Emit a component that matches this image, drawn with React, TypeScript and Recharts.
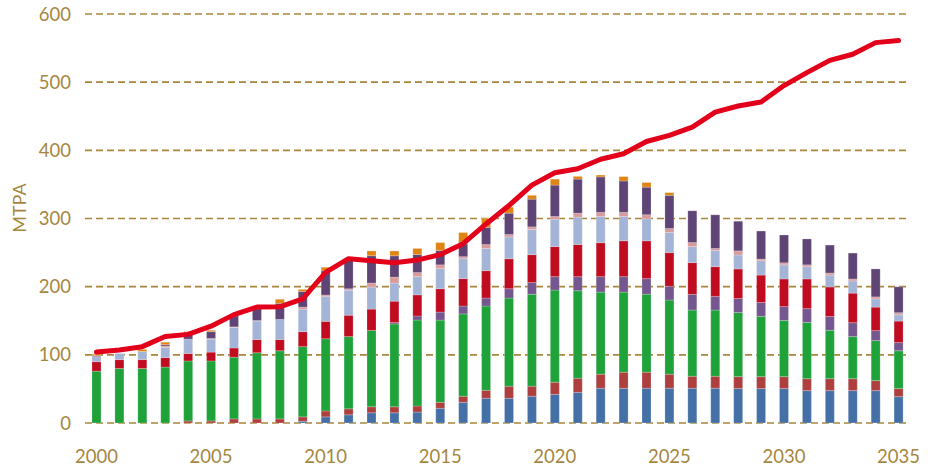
import React from 'react';
import { ComposedChart, Bar, Line, XAxis, YAxis, CartesianGrid, Label } from 'recharts';

const years = [
  2000, 2001, 2002, 2003, 2004, 2005, 2006, 2007, 2008, 2009,
  2010, 2011, 2012, 2013, 2014, 2015, 2016, 2017, 2018, 2019,
  2020, 2021, 2022, 2023, 2024, 2025, 2026, 2027, 2028, 2029,
  2030, 2031, 2032, 2033, 2034, 2035,
];

const seriesBlue = [
  0, 0, 0, 0, 0, 0, 0, 0, 0, 2.5,
  9, 12, 15, 15, 16, 21.6, 30.4, 36.3, 36.3, 39.2,
  42, 45, 51, 51, 51, 51, 51, 51, 50.5, 50.5,
  50.5, 47.5, 47.5, 47.5, 47.5, 38.7,
];
const seriesBrown = [
  0, 0, 0, 0, 3, 3, 6, 6, 6, 6.5,
  8.6, 8.8, 8.8, 8.8, 9, 8.8, 8.8, 11.7, 17.7, 14.8,
  17.8, 20.7, 20.6, 23.5, 23.5, 20.6, 17.6, 17.6, 17.5, 17.5,
  17.5, 17.5, 17.5, 17.5, 14.7, 11.8,
];
const seriesGreen = [
  76, 80, 80, 82, 88, 88, 90.6, 97, 100, 103,
  106, 106, 112, 121.5, 126, 120.6, 120.8, 123.6, 129.3, 135,
  135.2, 128.3, 120.4, 117.5, 114.5, 108.8, 97.1, 97.1, 94, 88.5,
  82.5, 82.5, 71, 61.8, 58.6, 55.5,
];
const seriesPurple = [
  0, 0, 0, 0, 0, 0, 0, 0, 0, 0,
  0, 0, 0, 2, 6, 11.7, 11.6, 11.7, 13.7, 17,
  19.7, 20.7, 22.7, 22.7, 22.8, 20.1, 23, 20.1, 20.6, 20.3,
  20.3, 20.3, 20.2, 20.4, 14.7, 12,
];
const seriesRed = [
  14, 13, 13, 14, 11, 13, 13.4, 19.5, 16.5, 22,
  25.5, 31.3, 31.3, 31.4, 31, 34.3, 40.2, 40.2, 44, 41,
  44.1, 47.1, 49.8, 52.6, 55.5, 49.5, 46.6, 43.6, 43.4, 40.2,
  40.5, 43.5, 43.3, 43.3, 34.5, 31.5,
];
const seriesLightBlue = [
  7, 9, 12, 15, 21, 19, 30, 27, 29.5, 33,
  36.3, 36.8, 32.3, 26.6, 26.7, 29.5, 29.2, 32.5, 32, 37,
  40.2, 40.2, 38.5, 35.7, 32.2, 29.4, 23.5, 23.6, 20.5, 21,
  20.7, 17.9, 17.5, 18, 12, 9.3,
];
const seriesPink = [
  0.5, 0, 0, 2, 0, 1, 1, 1, 0, 3,
  2.4, 2, 6, 8.7, 6, 5.5, 3, 5.8, 3.5, 3.7,
  4, 5.8, 6, 6, 6, 5.9, 5.9, 3, 6, 2.5,
  3, 2.8, 3, 2.8, 3, 3,
];
const seriesDarkPurple = [
  1.5, 0, 0, 2, 9, 10, 16, 17, 23.5, 23,
  35.3, 44.4, 40, 31.3, 26.4, 21, 18.7, 25.2, 31.3, 40.7,
  46, 50, 52, 46, 40.5, 48.7, 46.6, 49.4, 43.5, 41.1,
  40.8, 38, 41, 38, 41, 38,
];
const seriesOrange = [
  2, 0, 3, 3.5, 2, 2, 0, 0, 6, 3,
  5.4, 0.5, 7, 7, 9, 11.7, 16.7, 13, 8.9, 5.6,
  8.8, 4, 2.7, 6.5, 6.8, 4, 0, 0, 0, 0,
  0, 0, 0, 0, 0, 0,
];
const totalLine = [
  104, 107, 112, 127, 130, 142, 159, 170, 170.5, 182,
  221, 241, 238, 235, 239, 247, 263, 292, 319, 349,
  367, 373, 387, 395, 413, 422, 434, 456, 465, 471,
  495, 514, 532, 541, 558, 561,
];

const yTicks = [0, 100, 200, 300, 400, 500, 600];

const data = years.map((y, i) => ({
  year: y,
  blue: seriesBlue[i],
  brown: seriesBrown[i],
  green: seriesGreen[i],
  purple: seriesPurple[i],
  red: seriesRed[i],
  lightBlue: seriesLightBlue[i],
  pink: seriesPink[i],
  darkPurple: seriesDarkPurple[i],
  orange: seriesOrange[i],
  total: totalLine[i],
}));

const GOLD = '#a5863f';
const FONT = 'Lato, "Open Sans", sans-serif';

const barDefs = [
  { key: 'blue', color: '#4470a6' },
  { key: 'brown', color: '#ad3f3f' },
  { key: 'green', color: '#1fa23a' },
  { key: 'purple', color: '#74578e' },
  { key: 'red', color: '#c00c20' },
  { key: 'lightBlue', color: '#a3b4d6' },
  { key: 'pink', color: '#d99a9a' },
  { key: 'darkPurple', color: '#5f4476' },
  { key: 'orange', color: '#e08413' },
];

export default function App() {
  return (
    <div style={{ position: 'absolute', left: 0, top: 0, width: 932, height: 468, background: '#fff' }}>
      <ComposedChart
        width={932}
        height={468}
        data={data}
        margin={{ top: 14, right: 22, left: 0, bottom: 0 }}
        barCategoryGap="30%"
      >
        <CartesianGrid
          vertical={false}
          stroke="#a8863a"
          strokeWidth={1.6}
          strokeDasharray="7 4"
        />
        <XAxis
          dataKey="year"
          height={45}
          interval={4}
          axisLine={false}
          tickLine={false}
          tickSize={0}
          tickMargin={27}
          tick={{ fill: GOLD, fontSize: 18.5, fontFamily: FONT }}
        />
        <YAxis
          width={85}
          domain={[0, 600]}
          ticks={yTicks}
          axisLine={false}
          tickLine={false}
          tickSize={0}
          tickMargin={14}
          tick={{ fill: GOLD, fontSize: 18.5, fontFamily: FONT }}
        >
          <Label
            content={() => (
              <text
                x={19}
                y={208}
                transform="rotate(-90 19 208)"
                textAnchor="middle"
                dominantBaseline="central"
                fill={GOLD}
                fontSize={18}
                fontFamily={FONT}
              >
                MTPA
              </text>
            )}
          />
        </YAxis>
        {barDefs.map((b) => (
          <Bar
            key={b.key}
            dataKey={b.key}
            stackId="a"
            fill={b.color}
            barSize={9}
            stroke="#ffffff"
            strokeOpacity={0.35}
            strokeWidth={0.6}
            isAnimationActive={false}
          />
        ))}
        <Line
          dataKey="total"
          type="linear"
          stroke="#e3001b"
          strokeWidth={5}
          strokeLinejoin="round"
          strokeLinecap="round"
          dot={false}
          activeDot={false}
          isAnimationActive={false}
        />
      </ComposedChart>
    </div>
  );
}
